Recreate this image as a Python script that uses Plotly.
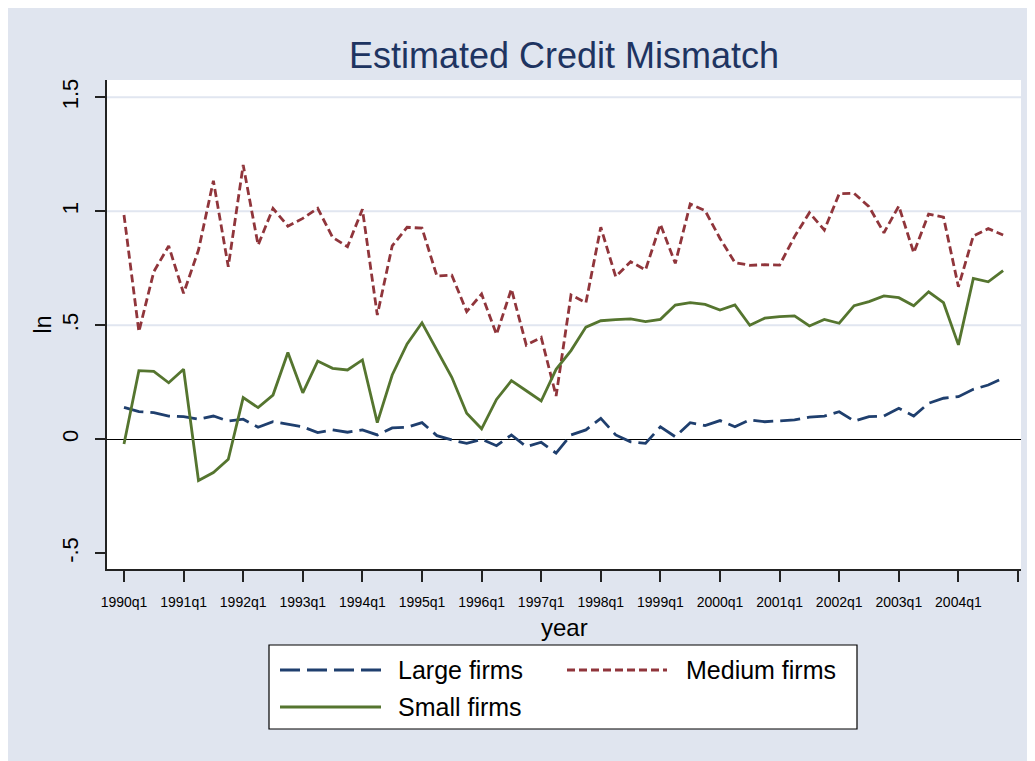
import plotly.graph_objects as go

# quarterly periods 1990q1 .. 2004q4
years = list(range(1990, 2005))
quarters = [f"{y}q{q}" for y in years for q in range(1, 5)]

large_firms = [
    0.140, 0.121, 0.117, 0.102, 0.099, 0.088, 0.102, 0.080, 0.088, 0.053, 0.077, 0.066,
    0.055, 0.029, 0.041, 0.031, 0.041, 0.019, 0.050, 0.053, 0.073, 0.016, -0.003, -0.018,
    0.000, -0.028, 0.019, -0.032, -0.013, -0.061, 0.019, 0.041, 0.092, 0.019, -0.011, -0.018,
    0.055, 0.011, 0.073, 0.060, 0.082, 0.055, 0.085, 0.077, 0.080, 0.085, 0.097, 0.102,
    0.121, 0.080, 0.099, 0.102, 0.136, 0.102, 0.158, 0.180, 0.187, 0.219, 0.238, 0.268,
]
medium_firms = [
    0.984, 0.472, 0.735, 0.848, 0.640, 0.830, 1.134, 0.757, 1.203, 0.852, 1.013, 0.935,
    0.969, 1.013, 0.886, 0.845, 1.009, 0.545, 0.848, 0.930, 0.926, 0.716, 0.720, 0.560,
    0.637, 0.460, 0.659, 0.413, 0.447, 0.190, 0.633, 0.599, 0.930, 0.713, 0.779, 0.743,
    0.943, 0.772, 1.032, 1.003, 0.881, 0.775, 0.763, 0.766, 0.764, 0.889, 0.994, 0.918,
    1.077, 1.079, 1.020, 0.906, 1.023, 0.818, 0.988, 0.974, 0.669, 0.892, 0.924, 0.896,
]
small_firms = [
    -0.021, 0.301, 0.298, 0.248, 0.307, -0.181, -0.146, -0.088, 0.183, 0.139, 0.194, 0.381,
    0.204, 0.343, 0.311, 0.304, 0.348, 0.073, 0.282, 0.418, 0.511, 0.392, 0.272, 0.114,
    0.046, 0.175, 0.257, 0.213, 0.168, 0.307, 0.389, 0.492, 0.520, 0.525, 0.528, 0.516,
    0.526, 0.589, 0.599, 0.592, 0.567, 0.589, 0.500, 0.531, 0.538, 0.541, 0.497, 0.526,
    0.509, 0.586, 0.604, 0.629, 0.621, 0.586, 0.647, 0.599, 0.414, 0.706, 0.691, 0.740,
]

y_ticks = [-0.5, 0, 0.5, 1, 1.5]
y_ticktext = ["-.5", "0", ".5", "1", "1.5"]
grid_vals = [0.5, 1, 1.5]

x = list(range(len(quarters)))
x_tickvals = [i for i, q in enumerate(quarters) if q.endswith("q1")] + [len(quarters)]
x_ticktext = [q for q in quarters if q.endswith("q1")] + [""]

NAVY = "#1F3F6E"
MAROON = "#90353B"
GREEN = "#55752F"
BG = "#E0E5EF"
FONT = "Liberation Sans, Arial, sans-serif"

# figure size / plot area in pixels (page body adds an 8px offset)
W, H = 1027, 753
L, R, T, B = 99, 1013, 72, 561


def fx(px):
    return (px - L) / (R - L)


def fy(py):
    return (B - py) / (B - T)


series = [
    ("Large firms", large_firms, NAVY, "20px,7px"),
    ("Medium firms", medium_firms, MAROON, "8px,4px"),
    ("Small firms", small_firms, GREEN, "solid"),
]

fig = go.Figure()
for name, vals, color, dash in series:
    fig.add_trace(go.Scatter(
        x=x, y=vals, name=name, mode="lines",
        line=dict(color=color, width=2.8, dash=dash),
        showlegend=False,
    ))

shapes = []
for g in grid_vals:
    shapes.append(dict(type="line", xref="paper", yref="y", x0=0, x1=1, y0=g, y1=g,
                       line=dict(color="#E1E6F0", width=2), layer="below"))

# legend box, drawn by hand so the line samples are long like the original
shapes.append(dict(type="rect", xref="paper", yref="paper",
                   x0=fx(261), x1=fx(849), y0=fy(721), y1=fy(637),
                   line=dict(color="black", width=1.2), fillcolor="white"))
legend_pos = [(272, 373, 388, 662), (559, 659, 676, 662), (272, 373, 388, 699)]
annotations = []
for (name, vals, color, dash), (lx0, lx1, tx, ly) in zip(series, legend_pos):
    shapes.append(dict(type="line", xref="paper", yref="paper",
                       x0=fx(lx0), x1=fx(lx1), y0=fy(ly), y1=fy(ly),
                       line=dict(color=color, width=2.8, dash=dash)))
    annotations.append(dict(text=name, xref="paper", yref="paper", x=fx(tx), y=fy(ly),
                            xanchor="left", yanchor="middle", showarrow=False,
                            font=dict(size=25, color="black", family=FONT)))

# x axis title
annotations.append(dict(text="year", xref="paper", yref="paper", x=0.5, y=fy(619),
                        xanchor="center", yanchor="middle", showarrow=False,
                        font=dict(size=24, color="black", family=FONT)))

fig.update_layout(
    width=W, height=H, autosize=False,
    margin=dict(l=L, r=W - R, t=T, b=H - B),
    paper_bgcolor=BG, plot_bgcolor="white",
    font=dict(family=FONT, color="black"),
    title=dict(text="Estimated Credit Mismatch", x=0.5, xref="paper", xanchor="center",
               y=1 - 47 / H, yref="container", yanchor="middle",
               font=dict(size=36, color="#1E3461", family=FONT)),
    shapes=shapes,
    annotations=annotations,
)
fig.update_xaxes(
    range=[-1.14, 60.2], tickvals=x_tickvals, ticktext=x_ticktext,
    ticks="outside", ticklen=11, tickwidth=1.5, tickcolor="#222",
    showline=True, linecolor="#222", linewidth=1.5, mirror=False,
    showgrid=False, zeroline=False, ticklabelstandoff=8,
    tickfont=dict(size=14, color="black"),
)
fig.update_yaxes(
    range=[-0.569, 1.576], tickvals=y_ticks, ticktext=y_ticktext, tickangle=-90,
    ticks="outside", ticklen=10, tickwidth=1.5, tickcolor="#222",
    showline=True, linecolor="#222", linewidth=1.5,
    showgrid=False, zeroline=True, zerolinecolor="black", zerolinewidth=1.3,
    ticklabelstandoff=8,
    tickfont=dict(size=22, color="black"),
    title=dict(text="ln", font=dict(size=23, color="black"), standoff=0),
)

fig.write_html("out.html")
